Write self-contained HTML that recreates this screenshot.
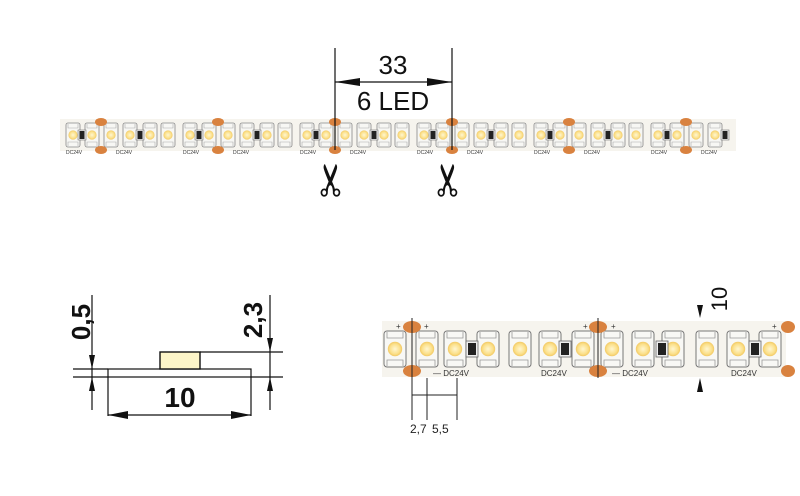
<!DOCTYPE html>
<html><head><meta charset="utf-8"><style>
html,body{margin:0;padding:0;background:#fff;width:800px;height:496px;overflow:hidden}
svg{display:block}
text{font-family:"Liberation Sans","DejaVu Sans",sans-serif}
</style></head><body>
<svg width="800" height="496" viewBox="0 0 800 496" xmlns="http://www.w3.org/2000/svg">
<defs>
<radialGradient id="lg" cx="0.5" cy="0.5" r="0.5"><stop offset="0" stop-color="#fff6d0"/><stop offset="0.7" stop-color="#fbe08a"/><stop offset="1" stop-color="#f2c964"/></radialGradient>
<g id="ledS"><rect x="-7" y="-12" width="14" height="24" rx="2" fill="#f7f7f4" stroke="#888" stroke-width="0.8"/><path d="M-5,-11 v4 h10 v-4" fill="none" stroke="#aaa" stroke-width="0.6"/><path d="M-5,11 v-4 h10 v4" fill="none" stroke="#aaa" stroke-width="0.6"/><circle r="4.6" fill="url(#lg)"/></g>
<g id="resS"><rect x="-4" y="-5" width="8" height="10" fill="#eee" stroke="#777" stroke-width="0.6"/><rect x="-2.5" y="-4" width="5" height="8" fill="#222"/></g>
<g id="ledB"><rect x="-11" y="-18" width="22" height="36" rx="3" fill="#f8f8f5" stroke="#777" stroke-width="1"/><path d="M-8,-17 v6 h16 v-6" fill="none" stroke="#999" stroke-width="0.8"/><path d="M-8,17 v-6 h16 v6" fill="none" stroke="#999" stroke-width="0.8"/><circle r="7.2" fill="url(#lg)"/></g>
<g id="resB"><rect x="-6" y="-8" width="12" height="16" fill="#eee" stroke="#666" stroke-width="0.8"/><rect x="-4" y="-6" width="8" height="12" fill="#222"/></g>
</defs>

<!-- TOP STRIP -->
<rect x="60" y="119" width="676" height="32" fill="#f6f4ee"/>
<g>
<use href="#ledS" x="73" y="135"/><use href="#ledS" x="92" y="135"/><use href="#ledS" x="111" y="135"/><use href="#ledS" x="130" y="135"/><use href="#ledS" x="150" y="135"/><use href="#ledS" x="168" y="135"/><use href="#ledS" x="190" y="135"/><use href="#ledS" x="209" y="135"/>
<use href="#ledS" x="228" y="135"/><use href="#ledS" x="247" y="135"/><use href="#ledS" x="267" y="135"/><use href="#ledS" x="285" y="135"/><use href="#ledS" x="307" y="135"/><use href="#ledS" x="326" y="135"/>
<use href="#ledS" x="345" y="135"/><use href="#ledS" x="364" y="135"/><use href="#ledS" x="384" y="135"/><use href="#ledS" x="402" y="135"/><use href="#ledS" x="424" y="135"/><use href="#ledS" x="443" y="135"/>
<use href="#ledS" x="462" y="135"/><use href="#ledS" x="481" y="135"/><use href="#ledS" x="501" y="135"/><use href="#ledS" x="519" y="135"/><use href="#ledS" x="541" y="135"/><use href="#ledS" x="560" y="135"/>
<use href="#ledS" x="579" y="135"/><use href="#ledS" x="598" y="135"/><use href="#ledS" x="618" y="135"/><use href="#ledS" x="636" y="135"/><use href="#ledS" x="658" y="135"/><use href="#ledS" x="677" y="135"/>
<use href="#ledS" x="696" y="135"/><use href="#ledS" x="715" y="135"/>
<use href="#resS" x="82" y="135"/><use href="#resS" x="140" y="135"/><use href="#resS" x="199" y="135"/><use href="#resS" x="257" y="135"/><use href="#resS" x="316" y="135"/><use href="#resS" x="374" y="135"/><use href="#resS" x="433" y="135"/><use href="#resS" x="491" y="135"/><use href="#resS" x="550" y="135"/><use href="#resS" x="608" y="135"/><use href="#resS" x="667" y="135"/><use href="#resS" x="725" y="135"/>
</g>
<g fill="#d9823f">
<ellipse cx="101" cy="122" rx="6" ry="4"/><ellipse cx="101" cy="150" rx="6" ry="4"/>
<ellipse cx="218" cy="122" rx="6" ry="4"/><ellipse cx="218" cy="150" rx="6" ry="4"/>
<ellipse cx="335" cy="122" rx="6" ry="4"/><ellipse cx="335" cy="150" rx="6" ry="4"/>
<ellipse cx="452" cy="122" rx="6" ry="4"/><ellipse cx="452" cy="150" rx="6" ry="4"/>
<ellipse cx="569" cy="122" rx="6" ry="4"/><ellipse cx="569" cy="150" rx="6" ry="4"/>
<ellipse cx="686" cy="122" rx="6" ry="4"/><ellipse cx="686" cy="150" rx="6" ry="4"/>
</g>
<g font-size="5" fill="#333"><text x="66" y="154">DC24V</text><text x="116" y="154">DC24V</text><text x="183" y="154">DC24V</text><text x="233" y="154">DC24V</text><text x="300" y="154">DC24V</text><text x="350" y="154">DC24V</text><text x="417" y="154">DC24V</text><text x="467" y="154">DC24V</text><text x="534" y="154">DC24V</text><text x="584" y="154">DC24V</text><text x="651" y="154">DC24V</text><text x="701" y="154">DC24V</text></g>

<!-- top dimension -->
<g stroke="#111" stroke-width="1.2" fill="none">
<line x1="335" y1="48" x2="335" y2="150"/><line x1="452" y1="48" x2="452" y2="150"/>
<line x1="335" y1="82" x2="452" y2="82"/>
</g>
<polygon points="335,82 360,78 360,86" fill="#111"/><polygon points="452,82 427,78 427,86" fill="#111"/>
<text x="393" y="74" font-size="26" text-anchor="middle" fill="#111">33</text>
<text x="393" y="110" font-size="26" text-anchor="middle" fill="#111">6 LED</text>
<text x="335" y="180" font-size="44" text-anchor="middle" fill="#111" font-family="DejaVu Sans" transform="rotate(-90 335 180)" dominant-baseline="middle">✂</text>
<text x="452" y="180" font-size="44" text-anchor="middle" fill="#111" font-family="DejaVu Sans" transform="rotate(-90 452 180)" dominant-baseline="middle">✂</text>

<!-- CROSS SECTION -->
<g stroke="#111" stroke-width="1.2" fill="none">
<line x1="92" y1="295" x2="92" y2="410"/><line x1="270" y1="295" x2="270" y2="410"/>
<line x1="73" y1="369" x2="108" y2="369"/><line x1="73" y1="377" x2="108" y2="377"/>
<line x1="251" y1="377" x2="283" y2="377"/><line x1="200" y1="352" x2="283" y2="352"/>
<rect x="108" y="369" width="143" height="8"/>
<line x1="108" y1="377" x2="108" y2="416"/><line x1="251" y1="377" x2="251" y2="416"/>
<line x1="108" y1="415" x2="251" y2="415"/>
</g>
<rect x="160" y="352" width="40" height="17" fill="#fdf5c8" stroke="#111" stroke-width="1.4"/>
<g fill="#111">
<polygon points="92,369 89,355 95,355"/><polygon points="92,377 89,391 95,391"/>
<polygon points="270,352 267,338 273,338"/><polygon points="270,377 267,391 273,391"/>
<polygon points="108,415 128,411 128,419"/><polygon points="251,415 231,411 231,419"/>
</g>
<text x="180" y="407" font-size="28" font-weight="bold" text-anchor="middle" fill="#111">10</text>
<text transform="translate(90 322) rotate(-90)" font-size="26" font-weight="bold" text-anchor="middle" fill="#111">0,5</text>
<text transform="translate(262 320) rotate(-90)" font-size="26" font-weight="bold" text-anchor="middle" fill="#111">2,3</text>

<!-- BOTTOM STRIP -->
<rect x="382" y="321" width="404" height="56" fill="#f6f4ee"/>
<g>
<use href="#ledB" x="395" y="349"/><use href="#ledB" x="427" y="349"/><use href="#ledB" x="455" y="349"/><use href="#ledB" x="488" y="349"/><use href="#ledB" x="520" y="349"/><use href="#ledB" x="550" y="349"/><use href="#ledB" x="583" y="349"/><use href="#ledB" x="612" y="349"/><use href="#ledB" x="643" y="349"/><use href="#ledB" x="673" y="349"/><use href="#ledB" x="707" y="349"/><use href="#ledB" x="738" y="349"/><use href="#ledB" x="770" y="349"/>
<use href="#resB" x="472" y="349"/><use href="#resB" x="565" y="349"/><use href="#resB" x="662" y="349"/><use href="#resB" x="755" y="349"/>
</g>
<g fill="#d9823f">
<ellipse cx="412" cy="327" rx="9" ry="6"/><ellipse cx="412" cy="371" rx="9" ry="6"/>
<ellipse cx="598" cy="327" rx="9" ry="6"/><ellipse cx="598" cy="371" rx="9" ry="6"/>
<ellipse cx="788" cy="327" rx="7" ry="6"/><ellipse cx="788" cy="371" rx="7" ry="6"/>
</g>
<g font-size="8" fill="#333"><text x="433" y="376">— DC24V</text><text x="541" y="376">DC24V</text><text x="612" y="376">— DC24V</text><text x="731" y="376">DC24V</text>
<text x="396" y="329">+</text><text x="424" y="329">+</text><text x="583" y="329">+</text><text x="611" y="329">+</text><text x="772" y="329">+</text></g>
<g stroke="#222" stroke-width="1" fill="none">
<line x1="412" y1="318" x2="412" y2="420"/><line x1="598" y1="318" x2="598" y2="378"/>
<line x1="427" y1="378" x2="427" y2="420"/><line x1="457" y1="378" x2="457" y2="420"/>
<line x1="412" y1="395" x2="457" y2="395"/>
</g>
<text x="410" y="433" font-size="12" fill="#222">2,7</text><text x="432" y="433" font-size="12" fill="#222">5,5</text>
<polygon points="700,318 697,305 703,305" fill="#111"/><polygon points="700,378 697,392 703,392" fill="#111"/>
<text transform="translate(727 299) rotate(-90)" font-size="22" text-anchor="middle" fill="#111">10</text>
</svg>
</body></html>
